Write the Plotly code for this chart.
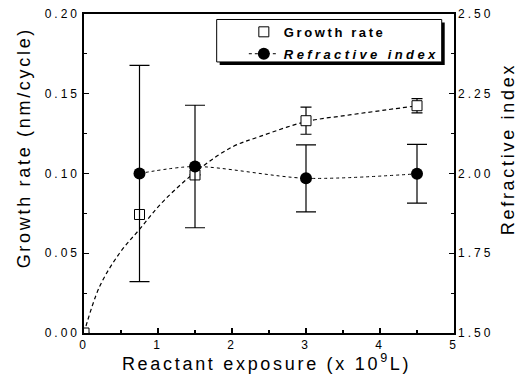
import plotly.graph_objects as go

# ---- data ----
exposure_ri = [0.75, 1.5, 3.0, 4.5]
refractive_index = [2.000, 2.022, 1.985, 1.999]
refractive_err = [0.339, 0.192, 0.105, 0.092]

exposure_gr = [0.0, 0.75, 1.5, 3.0, 4.5]
growth_rate = [0.0, 0.0743, 0.0991, 0.1331, 0.1425]
growth_err = [0.0, 0.0, 0.0, 0.0085, 0.0045]

fit_x = [0.0, 0.21, 0.48, 0.75, 1.09, 1.59, 2.01, 2.37, 3.0, 3.59, 4.1, 4.5]
fit_y = [0.0, 0.029, 0.050, 0.065, 0.0835, 0.104, 0.1168, 0.1231, 0.1325, 0.1367, 0.1400, 0.1424]

x_ticks = [0, 1, 2, 3, 4, 5]
y_ticks = [0.00, 0.05, 0.10, 0.15, 0.20]
y2_ticks = [1.50, 1.75, 2.00, 2.25, 2.50]

x_title = "Reactant exposure (x 10<sup>9</sup>L)"
y_title = "Growth rate (nm/cycle)"
y2_title = "Refractive index"

FONT = "Arial, Liberation Sans, sans-serif"

fig = go.Figure()

# dashed fit curve
fig.add_trace(go.Scatter(
    x=fit_x, y=fit_y, mode="lines",
    line=dict(color="black", width=1.2, dash="4px,3px", shape="spline", smoothing=1.0),
    showlegend=False, hoverinfo="skip"))

# refractive index (right axis)
fig.add_trace(go.Scatter(
    x=exposure_ri, y=refractive_index, yaxis="y2", mode="lines+markers",
    name="<b><i>Refractive index</i></b>", legendgroup="ri",
    line=dict(color="black", width=1, dash="dot", shape="spline", smoothing=0.8),
    marker=dict(symbol="circle", size=12, color="black"),
    error_y=dict(type="data", array=refractive_err, visible=True,
                 color="black", thickness=1.2, width=10),
    legendrank=2, cliponaxis=False))

# growth rate (left axis)
fig.add_trace(go.Scatter(
    x=exposure_gr, y=growth_rate, mode="markers",
    name="<b>Growth rate</b>", legendgroup="gr",
    marker=dict(symbol="square", size=10, color="white",
                line=dict(color="black", width=1)),
    error_y=dict(type="data", array=growth_err, visible=True,
                 color="black", thickness=1.2, width=5.5),
    legendrank=1, cliponaxis=True))

axis_common = dict(
    showline=True, linecolor="black", linewidth=1.6,
    ticks="inside", ticklen=5, tickwidth=1.2, tickcolor="black",
    showgrid=False, zeroline=False, automargin=False,
    tickfont=dict(family=FONT, size=12, color="black"),
)

title_font = dict(family=FONT, size=18, color="black")

fig.update_layout(
    template="none",
    width=525, height=374,
    margin=dict(l=84, r=71, t=14, b=41, autoexpand=False),
    paper_bgcolor="white", plot_bgcolor="white",
    font=dict(family=FONT, color="black"),
    xaxis=dict(
        range=[0, 5], tickvals=x_ticks, mirror=True,
        minor=dict(dtick=0.5, ticks="inside", ticklen=3, tickcolor="black"),
        **axis_common),
    yaxis=dict(
        range=[0, 0.2], tickvals=y_ticks, tickformat=".2f",
        minor=dict(dtick=0.025, ticks="inside", ticklen=3, tickcolor="black"),
        **axis_common),
    yaxis2=dict(
        range=[1.5, 2.5], tickvals=y2_ticks, tickformat=".2f",
        overlaying="y", side="right",
        minor=dict(dtick=0.125, ticks="inside", ticklen=3, tickcolor="black"),
        **axis_common),
    legend=dict(
        x=0.432, y=0.991, xanchor="left", yanchor="top",
        bgcolor="rgba(0,0,0,0)", borderwidth=0,
        font=dict(family=FONT, size=13, color="black"),
        tracegroupgap=2),
    annotations=[
        dict(text=x_title, xref="paper", yref="paper", x=0.494, y=-0.094,
             xanchor="center", yanchor="middle", showarrow=False, font=title_font),
        dict(text=y_title, xref="paper", yref="paper", x=-0.163, y=0.580,
             xanchor="center", yanchor="middle", textangle=-90,
             showarrow=False, font=title_font),
        dict(text=y2_title, xref="paper", yref="paper", x=1.145, y=0.577,
             xanchor="center", yanchor="middle", textangle=-90,
             showarrow=False, font=title_font),
    ],
    shapes=[
        dict(type="rect", xref="paper", yref="paper",
             x0=0.3667, x1=0.9749, y0=0.8403, y1=0.9734,
             fillcolor="black", line=dict(width=0), layer="above"),
        dict(type="rect", xref="paper", yref="paper",
             x0=0.3586, x1=0.9668, y0=0.8497, y1=0.9828,
             fillcolor="white", line=dict(color="black", width=1), layer="above"),
    ],
)

post = """
document.body.style.margin = '0';
document.body.style.padding = '0';
var gd = document.getElementById('{plot_id}');
var st = document.createElement('style');
st.textContent = '.xtick text,.ytick text,.y2tick text{letter-spacing:3px}' +
  '.annotation-text{letter-spacing:2.7px}' +
  '.legendtext{letter-spacing:2.6px}';
document.head.appendChild(st);
gd.querySelectorAll('.legend .scrollbox, .legend').forEach(function(e){
  e.removeAttribute('clip-path');
});
gd.querySelectorAll('.legendtext').forEach(function(e){
  if (e.textContent.indexOf('Refractive') >= 0) { e.style.letterSpacing = '3.4px'; }
});
"""

fig.write_html("out.html", post_script=post,
               config={"displayModeBar": False, "staticPlot": True})
